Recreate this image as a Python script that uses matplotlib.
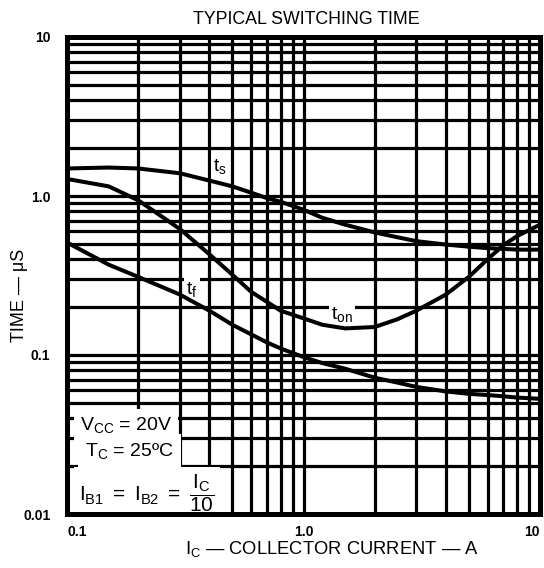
import matplotlib
matplotlib.use("Agg")
import matplotlib.pyplot as plt
from matplotlib.ticker import LogLocator, NullFormatter, FixedLocator, FixedFormatter

plt.rcParams['font.family'] = ['Liberation Sans', 'DejaVu Sans']
plt.rcParams['mathtext.fontset'] = 'custom'
plt.rcParams['mathtext.rm'] = 'Liberation Sans'
plt.rcParams['mathtext.it'] = 'Liberation Sans'

# ---- data ----
ic = [0.1, 0.15, 0.2, 0.3, 0.4, 0.5, 0.6, 0.7, 0.8, 1.0, 1.2, 1.5, 2.0, 2.5, 3.0, 4.0, 5.0, 6.0, 7.0, 8.0, 10.0]
t_s = [1.49, 1.51, 1.49, 1.39, 1.25, 1.15, 1.05, 0.97, 0.92, 0.82, 0.73, 0.66, 0.59, 0.55, 0.52, 0.495, 0.48, 0.47, 0.465, 0.46, 0.46]
t_on = [1.28, 1.15, 0.94, 0.62, 0.43, 0.32, 0.25, 0.216, 0.19, 0.17, 0.155, 0.147, 0.15, 0.168, 0.19, 0.24, 0.31, 0.40, 0.49, 0.56, 0.66]
t_f = [0.51, 0.37, 0.31, 0.24, 0.19, 0.155, 0.135, 0.12, 0.11, 0.097, 0.089, 0.082, 0.072, 0.067, 0.063, 0.059, 0.057, 0.056, 0.055, 0.054, 0.053]

x_ticks = [0.1, 1.0, 10]
x_ticklabels = ["0.1", "1.0", "10"]
y_ticks = [0.01, 0.1, 1.0, 10]
y_ticklabels = ["0.01", "0.1", "1.0", "10"]

title = "TYPICAL SWITCHING TIME"
xlabel = r"$\mathregular{I_C}$ — COLLECTOR CURRENT — A"
ylabel = "TIME — μS"

fig = plt.figure(figsize=(5.44, 5.68), dpi=100)
ax = fig.add_axes([67/544, 1-514/568, 473/544, 477/568])
ax.set_xscale('log')
ax.set_yscale('log')
ax.set_xlim(0.1, 10)
ax.set_ylim(0.01, 10)

ax.xaxis.set_major_locator(FixedLocator(x_ticks))
ax.xaxis.set_major_formatter(FixedFormatter(x_ticklabels))
ax.yaxis.set_major_locator(FixedLocator(y_ticks))
ax.yaxis.set_major_formatter(FixedFormatter(y_ticklabels))
ax.xaxis.set_minor_locator(LogLocator(base=10, subs=range(2, 10)))
ax.yaxis.set_minor_locator(LogLocator(base=10, subs=range(2, 10)))
ax.xaxis.set_minor_formatter(NullFormatter())
ax.yaxis.set_minor_formatter(NullFormatter())
ax.tick_params(which='both', length=0)
ax.tick_params(axis='x', pad=8, labelsize=10)
ax.tick_params(axis='y', pad=12, labelsize=10)
xl = ax.get_xticklabels()
for lab in xl + ax.get_yticklabels():
    lab.set_fontweight('bold')
xl[0].set_horizontalalignment('left')
xl[-1].set_horizontalalignment('right')

ax.set_axisbelow(True)
ax.grid(which='both', color='black', linewidth=2.3)
for sp in ax.spines.values():
    sp.set_linewidth(3.6)
    sp.set_zorder(5)

for series in (t_s, t_on, t_f):
    ax.plot(ic, series, color='black', linewidth=2.9, zorder=4, solid_capstyle='round')

wb = dict(facecolor='white', edgecolor='none', boxstyle='square,pad=0.12')
ax.text(0.444, 1.54, r"$\mathregular{t_s}$", fontsize=14, ha='center', va='center', bbox=wb, zorder=3)
ax.text(0.338, 0.26, r"$\mathregular{t_f}$", fontsize=14, ha='center', va='center', bbox=wb, zorder=3)
ax.text(1.455, 0.18, r"$\mathregular{t_{on}}$", fontsize=14, ha='center', va='center', bbox=wb, zorder=3)

ax.text(0.028, 0.187, r"$\mathregular{V_{CC}}$ = 20V", transform=ax.transAxes, fontsize=14,
        ha='left', va='center', bbox=dict(facecolor='white', edgecolor='none', boxstyle='square,pad=0.3'), zorder=3)
ax.text(0.038, 0.132, r"$\mathregular{T_C}$ = 25ºC", transform=ax.transAxes, fontsize=14,
        ha='left', va='center', bbox=dict(facecolor='white', edgecolor='none', boxstyle='square,pad=0.35'), zorder=3)
ax.text(0.026, 0.044, r"$\mathregular{I_{B1}\ =\ I_{B2}\ =\ \dfrac{I_C}{10}}$", transform=ax.transAxes, fontsize=15,
        ha='left', va='center', bbox=dict(facecolor='white', edgecolor='none', boxstyle='square,pad=0.25'), zorder=3)

fig.text(306/544, 1-19/568, title, fontsize=12.8, ha='center', va='center')
fig.text(332/544, 1-549/568, xlabel, fontsize=13.2, ha='center', va='center')
fig.text(20/544, 1-295/568, ylabel, fontsize=13, ha='center', va='center', rotation=90)

fig.savefig("out.png", dpi=100)
